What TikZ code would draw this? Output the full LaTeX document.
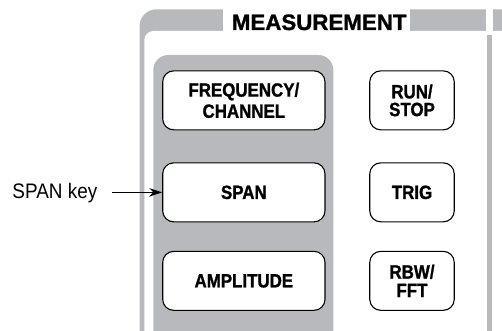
\documentclass[tikz,border=0pt]{standalone}
\usepackage{fontspec}
\setmainfont{Liberation Sans}
\newfontfamily\btnfont[FakeStretch=0.88,FakeBold=1.2]{Liberation Sans Bold}
\newfontfamily\keyfont[FakeStretch=0.9]{Liberation Sans}
\newfontfamily\measfont[FakeBold=1.2]{Liberation Sans Bold}
\usetikzlibrary{arrows.meta}
\definecolor{panelgray}{RGB}{184,185,189}
\tikzset{
  btn/.style={draw=black, fill=white, line width=1.1pt, rounded corners=11pt,
    inner sep=0pt, align=center, font=\btnfont\fontsize{19.2}{18.5}\selectfont},
  widebtn/.style={btn, minimum width=162.3pt, minimum height=59pt},
  narrowbtn/.style={btn, minimum width=84.5pt, minimum height=59pt},
  keyarrow/.style={line width=1pt, -{Stealth[length=13pt,width=8.5pt]}}
}
\begin{document}
\begin{tikzpicture}[x=1pt,y=-1pt]
\useasboundingbox (0,0) rectangle (502,331);
\clip (0,0) rectangle (502,331);
\fill[white] (0,0) rectangle (502,331);
% outer frame
\fill[panelgray, rounded corners=17pt] (139.5,9.3) rectangle (540,360);
\fill[white, rounded corners=9pt] (144.3,31) rectangle (540,360);
\fill[white] (486,0) rectangle (492.7,32);
\fill[white] (223.3,0) rectangle (410,32);
\fill[panelgray] (487.3,35) rectangle (491.7,331);
% inner gray column
\fill[panelgray, rounded corners=15pt] (153.3,55) rectangle (333.3,360);
% title
\node[anchor=base, inner sep=0pt, font=\measfont\fontsize{22.3}{24}\selectfont] (title) at (319.2,30) {MEASUREMENT};
% buttons
\node[widebtn] (freq) at (243.85,100.35) {\raisebox{-2pt}{\shortstack{FREQUENCY/\\[1pt]CHANNEL}}};
\node[narrowbtn] (run) at (412,100.35) {\raisebox{-2pt}{\shortstack{RUN/\\[1pt]STOP}}};
\node[widebtn] (span) at (243.85,192.35) {SPAN};
\node[narrowbtn] (trig) at (412,192.35) {TRIG};
\node[widebtn] (ampl) at (243.85,280.85) {AMPLITUDE};
\node[narrowbtn] (rbw) at (412,280.85) {RBW/\\FFT};
% label and arrow
\node[anchor=base west, inner sep=0pt, font=\keyfont\fontsize{21}{24}\selectfont] (spankey) at (12.3,198) {SPAN key};
\coordinate (astart) at (112,192.35);
\draw[keyarrow] (astart) -- (span.west);
\end{tikzpicture}
\end{document}
